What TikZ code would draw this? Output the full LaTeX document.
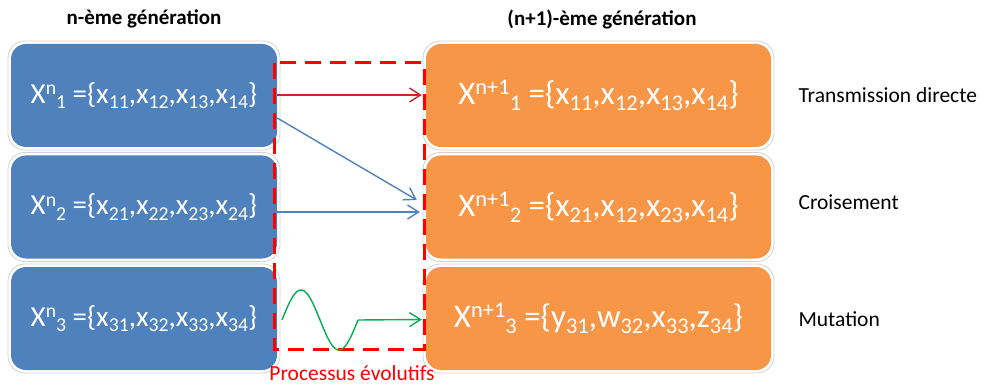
\documentclass[tikz,border=0pt]{standalone}
\usepackage{fontspec}
\setmainfont{Carlito}
\usetikzlibrary{arrows.meta}
\definecolor{boxblue}{RGB}{79,129,189}
\definecolor{boxorange}{RGB}{247,150,70}
\definecolor{dashred}{RGB}{255,0,0}
\definecolor{arrred}{RGB}{200,40,40}
\definecolor{arrgreen}{RGB}{0,176,80}
\definecolor{halogray}{RGB}{210,210,210}
\newcommand\mysup[1]{\raisebox{0.30em}{\fontsize{0.68\dimexpr\fsz\relax}{1em}\selectfont #1}}
\newcommand\mysub[1]{\raisebox{-0.18em}{\fontsize{0.68\dimexpr\fsz\relax}{1em}\selectfont #1}}
\def\fsz{29pt}
\tikzset{
  genbox/.style={rounded corners=15pt, minimum height=103pt, inner sep=0pt, text=white},
  bluebox/.style={genbox, fill=boxblue, minimum width=266pt,
    font=\def\fsz{29pt}\fontsize{29}{30}\selectfont},
  orangebox/.style={genbox, fill=boxorange, minimum width=345pt,
    font=\def\fsz{33pt}\fontsize{33}{34}\selectfont},
  halo/.style={draw=halogray, line width=0.8pt, rounded corners=17pt},
  title/.style={font=\bfseries\fontsize{21}{22}\selectfont},
  label/.style={font=\fontsize{21.5}{23}\selectfont, anchor=west},
  conn/.style={line width=1.4pt, -{Straight Barb[length=11pt,width=14pt,line width=1.4pt]}},
}
\begin{document}
\begin{tikzpicture}[x=1pt,y=-1pt]
\useasboundingbox (0,0) rectangle (984,387);
% boxes
\foreach \i/\y in {1/95.5,2/207,3/318.5}{
  \draw[halo] (8,\y-54.5) rectangle (280,\y+54.5);
  \draw[halo] (423,\y-54.5) rectangle (774,\y+54.5);
}
\node[bluebox] (b1) at (144,95.5) {X\mysup{n}\mysub{1} =\{x\mysub{11},x\mysub{12},x\mysub{13},x\mysub{14}\}};
\node[bluebox] (b2) at (144,207) {X\mysup{n}\mysub{2} =\{x\mysub{21},x\mysub{22},x\mysub{23},x\mysub{24}\}};
\node[bluebox] (b3) at (144,318.5) {X\mysup{n}\mysub{3} =\{x\mysub{31},x\mysub{32},x\mysub{33},x\mysub{34}\}};
\node[orangebox] (o1) at (598.5,95.5) {X\mysup{n+1}\mysub{1} =\{x\mysub{11},x\mysub{12},x\mysub{13},x\mysub{14}\}};
\node[orangebox] (o2) at (598.5,207) {X\mysup{n+1}\mysub{2} =\{x\mysub{21},x\mysub{12},x\mysub{23},x\mysub{14}\}};
\node[orangebox] (o3) at (598.5,318.5) {X\mysup{n+1}\mysub{3} =\{y\mysub{31},w\mysub{32},x\mysub{33},z\mysub{34}\}};
% titles
\node[title] (t1) at (144,19) {n-ème génération};
\node[title] (t2) at (602,19) {(n+1)-ème génération};
% labels
\node[label] (l1) at (795,95) {Transmission directe};
\node[label] (l2) at (795,202) {Croisement};
\node[label] (l3) at (795,319) {Mutation};
% dashed process box
\draw[dashred, line width=3pt, dash pattern=on 16pt off 9pt] (274,63) rectangle (424,349);
\node[text=dashred, font=\fontsize{21.5}{23}\selectfont] (proc) at (352,373) {Processus évolutifs};
% arrows
\draw[conn, arrred] (b1.east |- 0,95) -- ([xshift=-4pt]o1.west |- 0,95);
\draw[conn, boxblue] ([yshift=-22.5pt]b1.east) -- ([xshift=-9pt,yshift=7pt]o2.west);
\draw[conn, boxblue] ([yshift=-5pt]b2.east) -- ([xshift=-6pt,yshift=-5pt]o2.west);
\coordinate (ws) at (282,320);
\coordinate (we) at (358,320);
\draw[line width=1.4pt, arrgreen] (ws) -- plot[domain=282:358, samples=60, smooth] (\x,{320-30*sin((\x-282)/76*360)});
\draw[conn, arrgreen] (we) -- ([xshift=-4pt,yshift=-1pt]o3.west);
\end{tikzpicture}
\end{document}
